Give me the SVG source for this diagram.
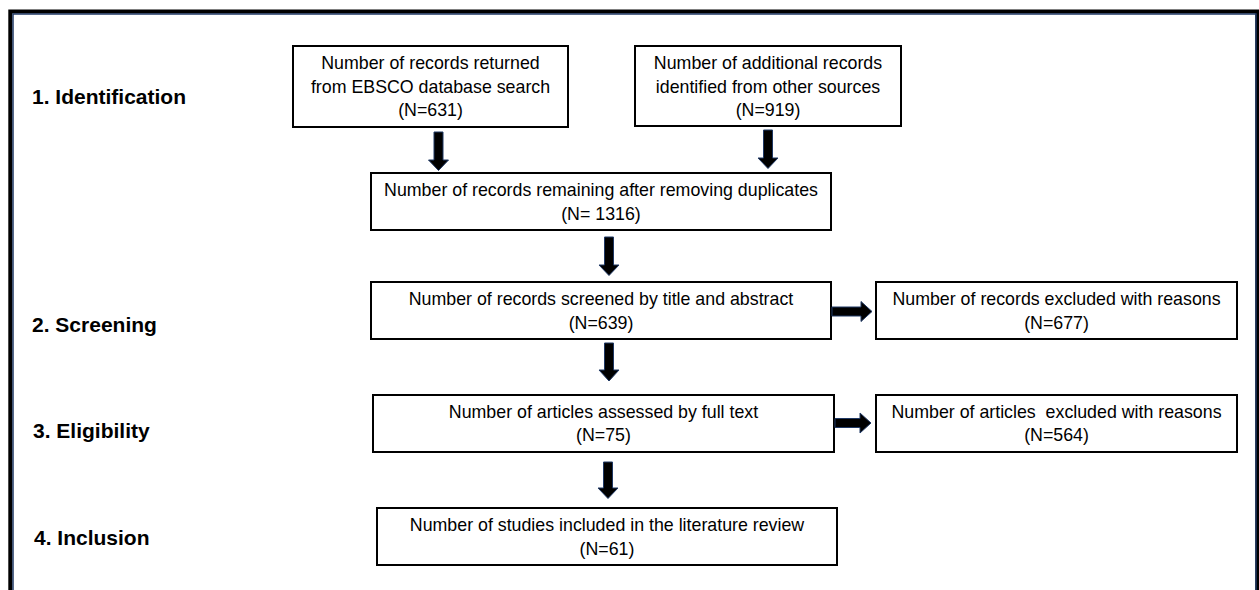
<svg xmlns="http://www.w3.org/2000/svg" width="1259" height="590" viewBox="0 0 1259 590">
  <style>
    .box { fill: #ffffff; stroke: #000000; stroke-width: 2; }
    .txt { font-family: "Liberation Sans", Arial, sans-serif; font-size: 17.8px; fill: #000000; text-anchor: middle; }
    .stage { font-family: "Liberation Sans", Arial, sans-serif; font-size: 21px; font-weight: bold; fill: #000000; }
    .arrow { fill: #000000; stroke: #1f3864; stroke-width: 1; stroke-linejoin: miter; }
  </style>

  <rect width="1259" height="590" fill="#ffffff"/>

  <!-- outer frame: heavy black rule with a thin navy inner line -->
  <g id="frame" fill="none">
    <rect x="10.3" y="11.5" width="1247" height="600" stroke="#000000" stroke-width="4"/>
    <rect x="13" y="14" width="1243" height="600" stroke="#1f3864" stroke-width="1.5"/>
  </g>

  <!-- stage labels -->
  <g id="stages">
    <text class="stage" x="32" y="104">1. Identification</text>
    <text class="stage" x="32" y="332">2. Screening</text>
    <text class="stage" x="33" y="438">3. Eligibility</text>
    <text class="stage" x="34" y="545">4. Inclusion</text>
  </g>

  <g id="ebsco">
    <rect class="box" x="293" y="46" width="275" height="81"/>
    <text class="txt" x="430.5" y="69">Number of records returned</text>
    <text class="txt" x="430.5" y="92.5">from EBSCO database search</text>
    <text class="txt" x="430.5" y="115.5">(N=631)</text>
  </g>

  <g id="other-sources">
    <rect class="box" x="635" y="46" width="266" height="80"/>
    <text class="txt" x="768" y="69">Number of additional records</text>
    <text class="txt" x="768" y="92.5">identified from other sources</text>
    <text class="txt" x="768" y="115.5">(N=919)</text>
  </g>

  <g id="deduplicated">
    <rect class="box" x="371" y="173" width="460" height="57"/>
    <text class="txt" x="601" y="196">Number of records remaining after removing duplicates</text>
    <text class="txt" x="601" y="219.5">(N= 1316)</text>
  </g>

  <g id="screened">
    <rect class="box" x="371" y="282" width="460" height="57"/>
    <text class="txt" x="601" y="305">Number of records screened by title and abstract</text>
    <text class="txt" x="601" y="328.5">(N=639)</text>
  </g>

  <g id="records-excluded">
    <rect class="box" x="876" y="282" width="361" height="57"/>
    <text class="txt" x="1056.5" y="305">Number of records excluded with reasons</text>
    <text class="txt" x="1056.5" y="328.5">(N=677)</text>
  </g>

  <g id="full-text">
    <rect class="box" x="373" y="395" width="461" height="57"/>
    <text class="txt" x="603.5" y="417.5">Number of articles assessed by full text</text>
    <text class="txt" x="603.5" y="441">(N=75)</text>
  </g>

  <g id="articles-excluded">
    <rect class="box" x="876" y="395" width="361" height="57"/>
    <text class="txt" x="1056.5" y="417.5" xml:space="preserve">Number of articles  excluded with reasons</text>
    <text class="txt" x="1056.5" y="441">(N=564)</text>
  </g>

  <g id="included">
    <rect class="box" x="377" y="508" width="460" height="57"/>
    <text class="txt" x="607" y="531">Number of studies included in the literature review</text>
    <text class="txt" x="607" y="554.5">(N=61)</text>
  </g>

  <!-- block arrows between the stages -->
  <g id="connectors">
    <path class="arrow" d="M434,132 H443 V160 H448.5 L438.5,170.5 L428.5,160 H434 Z"/>
    <path class="arrow" d="M763.5,130 H772.5 V158 H778 L768,168.5 L758,158 H763.5 Z"/>
    <path class="arrow" d="M604.5,237 H613.5 V265 H619 L609,275.5 L599,265 H604.5 Z"/>
    <path class="arrow" d="M604.5,343 H613.5 V370 H619 L609,381 L599,370 H604.5 Z"/>
    <path class="arrow" d="M603.5,462 H612.5 V488 H618 L608,498.5 L598,488 H603.5 Z"/>
    <path class="arrow" d="M832,307 V316 H861 V321.5 L872,311.5 L861,301.5 V307 Z"/>
    <path class="arrow" d="M835,418.5 V427.5 H860 V433 L871,423 L860,413 V418.5 Z"/>
  </g>
</svg>
